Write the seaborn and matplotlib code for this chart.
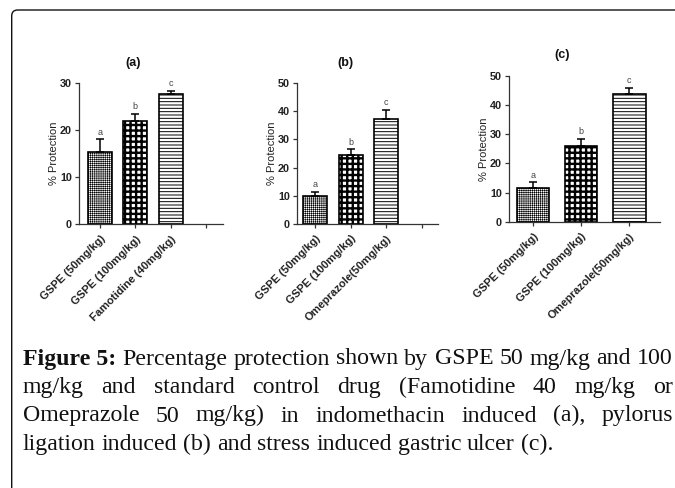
import matplotlib
matplotlib.use("Agg")
import matplotlib.pyplot as plt
import seaborn as sns
from matplotlib.patches import FancyBboxPatch

# Data
groups_a = ["GSPE (50mg/kg)", "GSPE (100mg/kg)", "Famotidine (40mg/kg)"]
groups_bc = ["GSPE (50mg/kg)", "GSPE (100mg/kg)", "Omeprazole(50mg/kg)"]

protect_a = [15.4, 22.0, 27.7]
sem_a = [2.6, 1.5, 0.7]
protect_b = [10.0, 24.4, 37.3]
sem_b = [1.3, 2.1, 3.1]
protect_c = [11.5, 26.0, 43.7]
sem_c = [2.0, 2.4, 2.3]

sig_letters = ["a", "b", "c"]
panel_titles = ["(a)", "(b)", "(c)"]
ymax = [30, 50, 50]

caption = (
    "Figure 5:|Percentage protection shown by GSPE 50 mg/kg and 100\n"
    "mg/kg and standard control drug (Famotidine 40 mg/kg or\n"
    "Omeprazole 50 mg/kg) in indomethacin induced (a), pylorus\n"
    "ligation induced (b) and stress induced gastric ulcer (c)."
)

W, H = 675, 488
sns.set_style("ticks")
plt.rcParams["font.family"] = ["Liberation Sans", "DejaVu Sans"]

fig = plt.figure(figsize=(W / 100, H / 100), dpi=100)

# rounded frame (only top/left visible, the rest is cropped)
fig.patches.append(FancyBboxPatch((11.7, -40), 720, H - 10 + 40,
                                  boxstyle="round,pad=0,rounding_size=6",
                                  transform=None, facecolor="none",
                                  edgecolor="#111111", linewidth=1.0))

# panel layout in pixels: left, top, right, bottom
boxes = [(79, 83, 223, 224), (297, 83.3, 438, 223.7), (509, 76, 660, 221.7)]
xlims = [(-0.595, 3.48), (-0.51, 3.46), (-0.5, 2.64)]
title_pos = [(133, 63), (345, 63), (562, 55)]
ylabel_pad = [0.5, 1, 1]
hatches = [("++++++++", 0.4), ("+++", 1.7), ("-----", 0.7)]

panels = [
    (groups_a, protect_a, sem_a, groups_a + [""]),
    (groups_bc, protect_b, sem_b, groups_bc + [""]),
    (groups_bc, protect_c, sem_c, groups_bc),
]

for k, (names, vals, errs, order) in enumerate(panels):
    l, t, r, b = boxes[k]
    ax = fig.add_axes([l / W, 1 - b / H, (r - l) / W, (b - t) / H])
    sns.barplot(x=names, y=vals, order=order, ax=ax, color="white",
                edgecolor="black", linewidth=1.2, width=0.68,
                saturation=1, errorbar=None)
    for p, (h, hlw) in zip(ax.patches, hatches):
        p.set_hatch(h)
        if hasattr(p, "set_hatch_linewidth"):
            p.set_hatch_linewidth(hlw)
    ax.errorbar(range(len(vals)), vals, yerr=[[0] * len(vals), errs],
                fmt="none", ecolor="black", elinewidth=1.1, capsize=3,
                capthick=1.1, zorder=3)
    for i, (v, e) in enumerate(zip(vals, errs)):
        ax.annotate(sig_letters[i], (i, v + e), xytext=(0, 2),
                    textcoords="offset points", ha="center", va="bottom",
                    fontsize=6.5, color="#444444")

    ax.set_xlim(*xlims[k])
    ax.set_ylim(0, ymax[k])
    ax.set_yticks(range(0, ymax[k] + 1, 10))
    ax.set_xticks(range(len(order)))
    ax.set_xticklabels(order, rotation=45, ha="right", rotation_mode="anchor",
                       fontsize=8, fontweight="bold", color="#222222")
    for lab in ax.get_yticklabels():
        lab.set_fontweight("bold")
        lab.set_fontsize(7.8)
        lab.set_color("#222222")
    ax.tick_params(axis="both", length=3, width=0.9, color="#333333", pad=2)
    ax.tick_params(axis="x", pad=4)
    ax.set_xlabel("")
    ax.set_ylabel("% Protection", fontsize=8, color="#222222",
                  labelpad=ylabel_pad[k])
    sns.despine(ax=ax)
    for s in ("left", "bottom"):
        ax.spines[s].set_linewidth(0.9)
        ax.spines[s].set_color("#333333")
    ax.patch.set_alpha(0)

    tx, ty = title_pos[k]
    fig.text(tx / W, 1 - ty / H, panel_titles[k], ha="center", va="center",
             fontsize=9, fontweight="bold", color="#111111")

# justified caption
renderer = fig.canvas.get_renderer()
x0, x1 = 22.7, 673
baselines = [364.5, 393, 421.5, 450]
lines = caption.split("\n")
serif = ["Liberation Serif", "DejaVu Serif"]
for n, line in enumerate(lines):
    words = []
    if "|" in line:
        bold, line = line.split("|")
        words.append((bold, "bold"))
    words += [(w, "normal") for w in line.split()]
    ypos = 1 - baselines[n] / H
    texts = [fig.text(0, ypos, w, fontsize=17.2, fontweight=fw, family=serif,
                      va="baseline", ha="left", color="#111111")
             for w, fw in words]
    widths = [tt.get_window_extent(renderer).width for tt in texts]
    if n < len(lines) - 1:
        gap = (x1 - x0 - sum(widths)) / (len(texts) - 1)
    else:
        gap = 17.2 * 100 / 72 * 0.25
    x = x0
    for tt, wd in zip(texts, widths):
        tt.set_x(x / W)
        x += wd + gap

plt.savefig("out.png", dpi=100)
